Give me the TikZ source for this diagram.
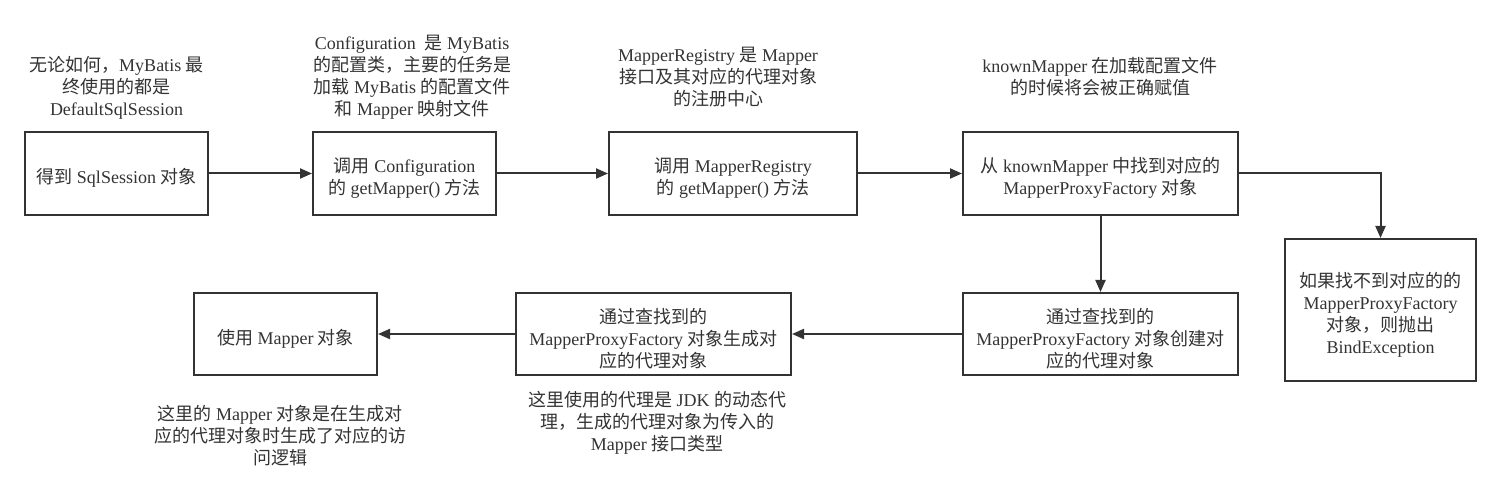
\documentclass[tikz,border=0pt]{standalone}
\usepackage{fontspec}
\setmainfont{Liberation Serif}
\newfontfamily\cjkfont{Noto Sans CJK SC}
\newcommand{\zh}[1]{{\cjkfont #1}}
\newcommand{\boxtop}{\rule{0pt}{18pt}}
\usetikzlibrary{arrows.meta}
\definecolor{linec}{HTML}{333333}

\tikzset{
    box/.style={draw=linec, line width=1.5pt, align=center, text=linec, inner sep=0pt},
    note/.style={align=center, text=linec, inner sep=0pt},
    arr/.style={draw=linec, line width=1.5pt, -{Triangle[length=9pt,width=7.5pt]}}
}

\begin{document}
\begin{tikzpicture}[x=0.75pt, y=-0.75pt, font=\fontsize{13.5}{16.5}\selectfont]

    % 画布
    \useasboundingbox (0,0) rectangle (1501,498);

    % 上排
    \node[box, minimum width=183*0.75pt, minimum height=83*0.75pt] (sess) at (116.5,173.5)
        {\boxtop\zh{得到} SqlSession \zh{对象}};
    \node[box, minimum width=183*0.75pt, minimum height=83*0.75pt] (conf) at (404.5,173.5)
        {\boxtop\zh{调用} Configuration\\ \zh{的} getMapper() \zh{方法}};
    \node[box, minimum width=248*0.75pt, minimum height=83*0.75pt] (reg) at (733,173.5)
        {\boxtop\zh{调用} MapperRegistry\\ \zh{的} getMapper() \zh{方法}};
    \node[box, minimum width=275*0.75pt, minimum height=83*0.75pt] (find) at (1100.5,173.5)
        {\boxtop\zh{从} knownMapper \zh{中找到对应的}\\ MapperProxyFactory \zh{对象}};

    % 右侧
    \node[box, minimum width=191*0.75pt, minimum height=142*0.75pt] (throw) at (1380.5,310)
        {\boxtop\zh{如果找不到对应的的}\\ MapperProxyFactory\\ \zh{对象，则抛出}\\ BindException};

    % 下排
    \node[box, minimum width=275*0.75pt, minimum height=82*0.75pt] (create) at (1100.5,334)
        {\boxtop\zh{通过查找到的}\\ MapperProxyFactory \zh{对象创建对}\\ \zh{应的代理对象}};
    \node[box, minimum width=275*0.75pt, minimum height=82*0.75pt] (gen) at (653.5,334)
        {\boxtop\zh{通过查找到的}\\ MapperProxyFactory \zh{对象生成对}\\ \zh{应的代理对象}};
    \node[box, minimum width=183*0.75pt, minimum height=82*0.75pt] (use) at (285.5,334)
        {\boxtop\zh{使用} Mapper \zh{对象}};

    % 连线
    \draw[arr] (sess) -- (conf);
    \draw[arr] (conf) -- (reg);
    \draw[arr] (reg) -- (find);
    \draw[arr] (find.east) -| (throw.north);
    \draw[arr] (find) -- (create);
    \draw[arr] (create) -- (gen);
    \draw[arr] (gen) -- (use);

    % 说明文字
    \node[note] (n1) at (116.5,88)
        {\zh{无论如何，}MyBatis \zh{最}\\ \zh{终使用的都是}\\ DefaultSqlSession};
    \node[note] (n2) at (412,77)
        {Configuration\ \ \zh{是} MyBatis\\ \zh{的配置类，主要的任务是}\\ \zh{加载} MyBatis \zh{的配置文件}\\ \zh{和} Mapper \zh{映射文件}};
    \node[note] (n3) at (718,77)
        {MapperRegistry \zh{是} Mapper\\ \zh{接口及其对应的代理对象}\\ \zh{的注册中心}};
    \node[note] (n4) at (1100,77)
        {knownMapper \zh{在加载配置文件}\\ \zh{的时候将会被正确赋值}};
    \node[note] (n5) at (657,423)
        {\zh{这里使用的代理是} JDK \zh{的动态代}\\ \zh{理，生成的代理对象为传入的}\\ Mapper \zh{接口类型}};
    \node[note] (n6) at (280,436)
        {\zh{这里的} Mapper \zh{对象是在生成对}\\ \zh{应的代理对象时生成了对应的访}\\ \zh{问逻辑}};

\end{tikzpicture}
\end{document}
